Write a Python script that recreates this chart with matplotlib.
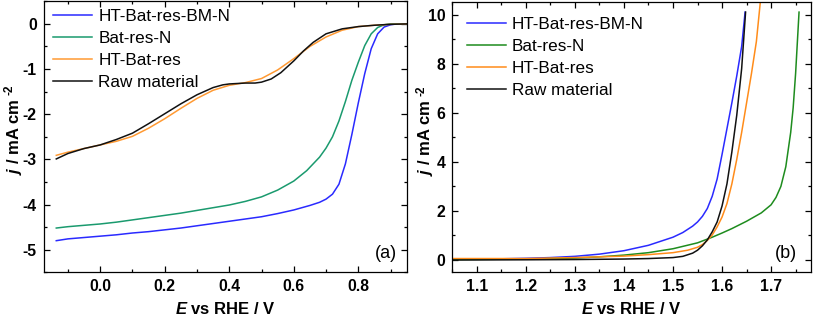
import matplotlib
matplotlib.use("Agg")
import matplotlib.pyplot as plt
from matplotlib.ticker import MultipleLocator

plt.rcParams['font.family'] = ['Liberation Sans', 'DejaVu Sans']
plt.rcParams['mathtext.fontset'] = 'custom'
plt.rcParams['mathtext.rm'] = 'Liberation Sans:bold'
plt.rcParams['mathtext.it'] = 'Liberation Sans:bold:italic'
plt.rcParams['mathtext.bf'] = 'Liberation Sans:bold'

LABELS = ['HT-Bat-res-BM-N', 'Bat-res-N', 'HT-Bat-res', 'Raw material']

# (a) ORR polarisation curves
orr_bm_e = [-0.136, -0.10, -0.05, 0.0, 0.05, 0.10, 0.15, 0.20, 0.25, 0.30, 0.35, 0.40, 0.45,
            0.50, 0.55, 0.60, 0.65, 0.68, 0.70, 0.72, 0.74, 0.76, 0.78, 0.80, 0.82, 0.84,
            0.86, 0.88, 0.90, 0.92, 0.955]
orr_bm_j = [-4.80, -4.76, -4.73, -4.70, -4.67, -4.63, -4.60, -4.56, -4.52, -4.47, -4.42, -4.37, -4.32,
            -4.27, -4.20, -4.12, -4.02, -3.95, -3.88, -3.77, -3.55, -3.10, -2.45, -1.75, -1.10, -0.55,
            -0.22, -0.07, -0.02, 0.0, 0.0]
orr_n_e = [-0.136, -0.10, -0.05, 0.0, 0.05, 0.10, 0.15, 0.20, 0.25, 0.30, 0.35, 0.40, 0.45,
           0.50, 0.55, 0.60, 0.64, 0.68, 0.70, 0.72, 0.74, 0.76, 0.78, 0.80, 0.82, 0.84,
           0.86, 0.88, 0.90, 0.955]
orr_n_j = [-4.52, -4.49, -4.46, -4.43, -4.39, -4.34, -4.29, -4.24, -4.19, -4.13, -4.07, -4.01, -3.93,
           -3.83, -3.68, -3.48, -3.25, -2.95, -2.75, -2.50, -2.15, -1.72, -1.25, -0.85, -0.48, -0.22,
           -0.08, -0.02, 0.0, 0.0]
orr_ht_e = [-0.136, -0.10, -0.05, 0.0, 0.05, 0.10, 0.15, 0.20, 0.25, 0.30, 0.35, 0.40, 0.45,
            0.50, 0.55, 0.60, 0.65, 0.70, 0.75, 0.80, 0.85, 0.90, 0.955]
orr_ht_j = [-2.91, -2.84, -2.76, -2.68, -2.60, -2.49, -2.31, -2.10, -1.87, -1.65, -1.47, -1.36, -1.30,
            -1.21, -1.02, -0.77, -0.50, -0.29, -0.14, -0.06, -0.03, -0.01, 0.0]
orr_raw_e = [-0.136, -0.10, -0.05, 0.0, 0.05, 0.10, 0.15, 0.20, 0.25, 0.30, 0.35, 0.38, 0.40,
             0.45, 0.48, 0.50, 0.53, 0.56, 0.60, 0.63, 0.66, 0.70, 0.75, 0.80, 0.85, 0.90, 0.955]
orr_raw_j = [-2.99, -2.87, -2.76, -2.68, -2.56, -2.42, -2.21, -1.99, -1.77, -1.57, -1.41, -1.35, -1.33,
             -1.31, -1.31, -1.29, -1.22, -1.08, -0.82, -0.60, -0.41, -0.22, -0.11, -0.06, -0.03, -0.01, 0.0]

# (b) OER polarisation curves
oer_bm_e = [1.05, 1.15, 1.20, 1.25, 1.30, 1.35, 1.40, 1.45, 1.50, 1.52, 1.54, 1.55, 1.56, 1.57,
            1.58, 1.59, 1.60, 1.61, 1.62, 1.63, 1.64, 1.647]
oer_bm_j = [0.04, 0.05, 0.07, 0.10, 0.15, 0.24, 0.38, 0.60, 0.93, 1.12, 1.38, 1.55, 1.78, 2.10,
            2.60, 3.30, 4.30, 5.35, 6.40, 7.50, 8.70, 10.1]
oer_n_e = [1.05, 1.20, 1.30, 1.35, 1.40, 1.45, 1.50, 1.55, 1.58, 1.60, 1.62, 1.65, 1.68, 1.70,
           1.71, 1.72, 1.73, 1.74, 1.745, 1.75, 1.757]
oer_n_j = [0.02, 0.04, 0.08, 0.13, 0.20, 0.30, 0.46, 0.70, 0.93, 1.10, 1.28, 1.58, 1.92, 2.25,
           2.55, 3.00, 3.80, 5.20, 6.20, 7.60, 10.1]
oer_ht_e = [1.05, 1.20, 1.30, 1.40, 1.45, 1.50, 1.53, 1.55, 1.56, 1.57, 1.58, 1.59, 1.60, 1.61,
            1.62, 1.63, 1.64, 1.65, 1.66, 1.67, 1.678]
oer_ht_j = [0.06, 0.06, 0.10, 0.16, 0.22, 0.30, 0.40, 0.52, 0.63, 0.80, 1.02, 1.35, 1.75, 2.30,
            3.10, 4.10, 5.20, 6.40, 7.60, 8.90, 10.5]
oer_raw_e = [1.05, 1.20, 1.30, 1.40, 1.45, 1.50, 1.52, 1.54, 1.55, 1.56, 1.57, 1.58, 1.59, 1.60,
             1.61, 1.62, 1.63, 1.64, 1.648]
oer_raw_j = [0.0, 0.01, 0.02, 0.04, 0.06, 0.10, 0.15, 0.28, 0.40, 0.58, 0.82, 1.15, 1.55, 2.20,
             3.10, 4.40, 5.90, 7.80, 10.1]

COLORS_A = ['#2a2aff', '#1a9a6e', '#ff9a33', '#111111']
COLORS_B = ['#2a2aff', '#1e8c1e', '#ff8c1a', '#111111']

W, H = 817, 316
fig = plt.figure(figsize=(W / 100, H / 100), dpi=100)
ax_a = fig.add_axes([43.7 / W, (H - 272.3) / H, 363 / W, 271 / H])
ax_b = fig.add_axes([452.3 / W, (H - 272.3) / H, 359 / W, 270 / H])


def style_axes(ax, label_x):
    ax.tick_params(which='both', direction='in', top=True, right=True, width=0.9,
                   labelsize=11.3, pad=5)
    ax.tick_params(which='major', length=4)
    ax.tick_params(which='minor', length=2.5)
    for lbl in ax.get_xticklabels() + ax.get_yticklabels():
        lbl.set_fontweight('bold')
    for sp in ax.spines.values():
        sp.set_linewidth(0.9)
    ax.set_xlabel(r'$E$ vs RHE / V', fontsize=12, fontweight='bold', labelpad=5)
    ax.set_ylabel(r'$j$ / mA cm', fontsize=12, fontweight='bold', va='center')
    # put the y label centre at a fixed pixel column
    bb = ax.get_position()
    ax.yaxis.set_label_coords((label_x / W - bb.x0) / bb.width, 0.5)


series_a = [(orr_bm_e, orr_bm_j), (orr_n_e, orr_n_j), (orr_ht_e, orr_ht_j), (orr_raw_e, orr_raw_j)]
for (e, j), c, lab in zip(series_a, COLORS_A, LABELS):
    ax_a.plot(e, j, color=c, lw=1.1, label=lab)
ax_a.set_xlim(-0.175, 0.95)
ax_a.set_ylim(-5.5, 0.5)
ax_a.xaxis.set_major_locator(MultipleLocator(0.2))
ax_a.xaxis.set_minor_locator(MultipleLocator(0.1))
ax_a.yaxis.set_major_locator(MultipleLocator(1))
ax_a.yaxis.set_minor_locator(MultipleLocator(0.5))
ax_a.xaxis.set_major_formatter(lambda v, p: f'{v:.1f}')
ax_a.yaxis.set_major_formatter(lambda v, p: f'{v:.0f}')
style_axes(ax_a, 14)
ax_a.legend(loc='upper left', bbox_to_anchor=(0.026, 0.97), frameon=False, fontsize=12.3,
            borderaxespad=0, borderpad=0, handlelength=2.3, handletextpad=0.35, labelspacing=0.4)
ax_a.text(0.972, 0.071, '(a)', transform=ax_a.transAxes, ha='right', va='center', fontsize=13)

series_b = [(oer_bm_e, oer_bm_j), (oer_n_e, oer_n_j), (oer_ht_e, oer_ht_j), (oer_raw_e, oer_raw_j)]
for (e, j), c, lab in zip(series_b, COLORS_B, LABELS):
    ax_b.plot(e, j, color=c, lw=1.1, label=lab)
ax_b.set_xlim(1.05, 1.782)
ax_b.set_ylim(-0.5, 10.5)
ax_b.xaxis.set_major_locator(MultipleLocator(0.1))
ax_b.xaxis.set_minor_locator(MultipleLocator(0.05))
ax_b.yaxis.set_major_locator(MultipleLocator(2))
ax_b.yaxis.set_minor_locator(MultipleLocator(1))
ax_b.xaxis.set_major_formatter(lambda v, p: f'{v:.1f}')
ax_b.yaxis.set_major_formatter(lambda v, p: f'{v:.0f}')
style_axes(ax_b, 426)
ax_b.legend(loc='upper left', bbox_to_anchor=(0.04, 0.945), frameon=False, fontsize=12.3,
            borderaxespad=0, borderpad=0, handlelength=2.3, handletextpad=0.35, labelspacing=0.4)
ax_b.text(0.96, 0.068, '(b)', transform=ax_b.transAxes, ha='right', va='center', fontsize=13)

# raised "-2" after each y label
fig.canvas.draw()
renderer = fig.canvas.get_renderer()
for ax in (ax_a, ax_b):
    lb = ax.yaxis.label.get_window_extent(renderer)
    fig.text(lb.x0 - 1, lb.y1 + 3, '-2', transform=None, rotation=90, fontsize=8.5,
             fontweight='bold', ha='left', va='bottom')

fig.savefig('out.png', dpi=100)
